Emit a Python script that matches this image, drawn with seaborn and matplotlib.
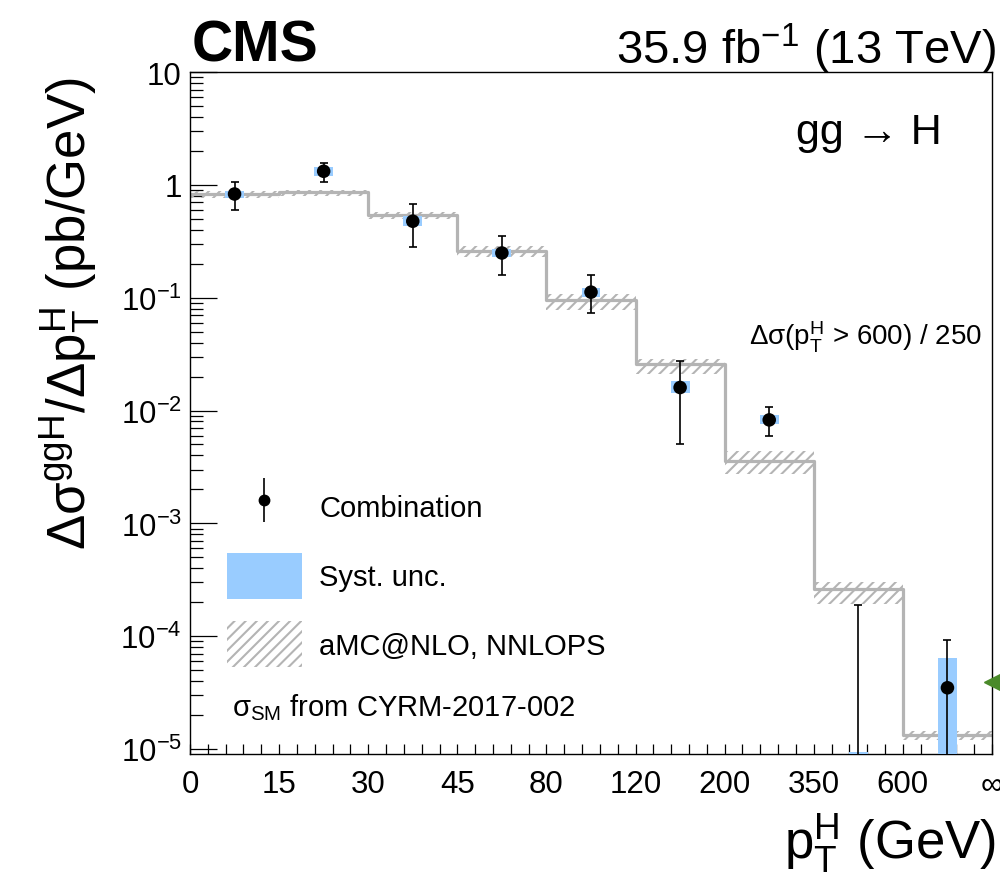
import numpy as np
import matplotlib
matplotlib.use("Agg")
import matplotlib.pyplot as plt
import seaborn as sns
from matplotlib.lines import Line2D
from matplotlib.patches import Patch
from matplotlib.legend_handler import HandlerTuple
from matplotlib.ticker import LogLocator, NullFormatter, MultipleLocator, FixedLocator, FixedFormatter

# ---------------- data ----------------
bin_labels = ['0', '15', '30', '45', '80', '120', '200', '350', '600', '∞']

# combination (measured), central value and total-uncertainty band edges (0 = off-scale / negative)
comb = [0.83, 1.32, 0.476, 0.249, 0.112, 0.0160, 0.00826, np.nan, 3.49e-5]
comb_hi = [1.07, 1.57, 0.678, 0.35, 0.159, 0.0276, 0.0108, 1.88e-4, 9.2e-5]
comb_lo = [0.60, 1.07, 0.284, 0.159, 0.0727, 0.0051, 0.00597, 0.0, 0.0]

# systematic uncertainty boxes
syst_hi = [0.89, 1.44, 0.53, 0.27, 0.123, 0.0184, 0.0092, 9.4e-6, 6.44e-5]
syst_lo = [0.76, 1.21, 0.43, 0.23, 0.101, 0.0143, 0.0076, 0.0, 0.0]

# theory: aMC@NLO, NNLOPS
theory = [0.832, 0.861, 0.545, 0.261, 0.0960, 0.02582, 0.003579, 2.60e-4, 1.318e-5]
theory_hi = [0.885, 0.903, 0.576, 0.2875, 0.1078, 0.02858, 0.004363, 3.0e-4, 1.459e-5]
theory_lo = [0.765, 0.799, 0.499, 0.2297, 0.0778, 0.02104, 0.002727, 1.914e-4, 1.19e-5]

# marker on right edge (overflow bin)
edge_marker_value = 3.94e-5

ytick_values = [1e-5, 1e-4, 1e-3, 1e-2, 1e-1, 1, 10]
ytick_labels = [r'$10^{-5}$', r'$10^{-4}$', r'$10^{-3}$', r'$10^{-2}$', r'$10^{-1}$', '1', '10']

legend_labels = ['Combination', 'Syst. unc.', 'aMC@NLO, NNLOPS']

# ---------------- style ----------------
sns.set_theme(style='ticks')
plt.rcParams['font.family'] = ['Liberation Sans', 'DejaVu Sans']
plt.rcParams['mathtext.fontset'] = 'custom'
plt.rcParams['mathtext.rm'] = 'Liberation Sans'
plt.rcParams['mathtext.it'] = 'Liberation Sans:italic'
plt.rcParams['mathtext.bf'] = 'Liberation Sans:bold'
plt.rcParams['mathtext.default'] = 'regular'
plt.rcParams['hatch.linewidth'] = 1.5
for k in ['text.color', 'axes.labelcolor', 'xtick.color', 'ytick.color', 'axes.edgecolor']:
    plt.rcParams[k] = 'black'

blue = '#99ccff'
gray = '#b4b4b4'
plt.rcParams['hatch.color'] = gray

fig = plt.figure(figsize=(10, 8.95), dpi=100)
ax = fig.add_axes([0.190, 0.1564, 0.802, 0.762])

nb = len(theory)
edges = np.arange(nb + 1)
centres = edges[:-1] + 0.5
floor = 1e-7

comb_a = np.array(comb)
hi_a = np.array(comb_hi)
lo_a = np.where(np.array(comb_lo) > 0, np.array(comb_lo), floor)
shi = np.array(syst_hi)
slo = np.where(np.array(syst_lo) > 0, np.array(syst_lo), floor)
th = np.array(theory)
thh = np.array(theory_hi)
thl = np.array(theory_lo)

# theory band (hatched) and central step line
ax.fill_between(edges, np.append(thl, thl[-1]), np.append(thh, thh[-1]), step='post',
                facecolor='none', edgecolor=gray, hatch='///', linewidth=0, zorder=1)
ax.step(edges, np.append(th, th[-1]), where='post', color=gray, linewidth=2.3, zorder=2)

# systematic boxes
ax.bar(centres, shi - slo, bottom=slo, width=0.213, color=blue, edgecolor='none', zorder=3)

# error bars
ax.vlines(centres, lo_a, hi_a, color='black', linewidth=1.2, zorder=4)
ax.plot(centres, hi_a, marker='_', linestyle='none', color='black', markersize=6, mew=1.2, zorder=4)
ax.plot(centres, lo_a, marker='_', linestyle='none', color='black', markersize=6, mew=1.2, zorder=4)

# central points
sns.scatterplot(x=centres, y=comb_a, color='black', s=95, edgecolor='none', zorder=5, ax=ax, legend=False)

# edge marker
ax.plot([nb], [edge_marker_value], marker='<', color='#4a8a2a', markersize=11, linestyle='none',
        clip_on=False, zorder=6)

# axes
ax.set_yscale('log')
ax.set_ylim(9.03e-6, 10)
ax.set_xlim(0, nb)
ax.yaxis.set_major_locator(FixedLocator(ytick_values))
ax.yaxis.set_major_formatter(FixedFormatter(ytick_labels))
ax.yaxis.set_minor_locator(LogLocator(base=10, subs=np.arange(2, 10)))
ax.yaxis.set_minor_formatter(NullFormatter())
ax.set_xticks(edges)
ax.set_xticklabels(bin_labels)
ax.xaxis.set_minor_locator(MultipleLocator(0.2))

ax.tick_params(axis='y', which='major', direction='in', length=19.5, width=0.9, labelsize=22.5, pad=6,
               left=True, right=False)
ax.tick_params(axis='y', which='minor', direction='in', length=9.5, width=0.9, left=True, right=False)
ax.tick_params(axis='x', which='major', direction='in', length=7.5, width=0.9, labelsize=22.5, pad=11,
               bottom=True, top=False)
ax.tick_params(axis='x', which='minor', direction='in', length=7.5, width=0.9, bottom=True, top=False)
for s in ax.spines.values():
    s.set_linewidth(1.0)
    s.set_color('black')

ax.set_ylabel(r'$\Delta\sigma^{ggH}/\Delta p_{T}^{H}$ (pb/GeV)', fontsize=38, loc='top')
ax.yaxis.set_label_coords(-0.11, 0.993)
ax.set_xlabel(r'$p_{T}^{H}$ (GeV)', fontsize=38, loc='right')
ax.xaxis.set_label_coords(1.005, -0.083)

# legend
handles = [
    (Line2D([], [], color='black', marker='|', markersize=31, mew=1.2, linestyle='none'),
     Line2D([], [], color='black', marker='o', markersize=7.5, linestyle='none')),
    Patch(facecolor=blue, edgecolor='none'),
    Patch(facecolor='white', edgecolor=gray, hatch='///', linewidth=0),
]
ax.legend(handles, legend_labels, loc='upper left', bbox_to_anchor=(0.0458, 0.396),
          frameon=False, fontsize=21, handlelength=2.57, handleheight=2.05,
          handletextpad=0.6, labelspacing=0.78, borderpad=0, borderaxespad=0,
          handler_map={tuple: HandlerTuple(ndivide=1)})
ax.text(0.052, 0.0562, r'$\sigma_{SM}$ from CYRM-2017-002', transform=ax.transAxes,
        fontsize=21, ha='left', va='baseline')

# annotations
ax.text(0.9377, 0.896, 'gg → H', transform=ax.transAxes, fontsize=31, ha='right', va='baseline')
ax.text(0.9875, 0.601, r'$\Delta\sigma(p_{T}^{H}$ > 600) / 250', transform=ax.transAxes,
        fontsize=20, ha='right', va='baseline')

fig.text(0.192, 1 - 62 / 895, 'CMS', fontsize=41, fontweight='bold', ha='left', va='baseline')
fig.text(0.996, 1 - 64 / 895, r'35.9 fb$^{-1}$ (13 TeV)', fontsize=34, ha='right', va='baseline')

fig.savefig('out.png', dpi=100)
